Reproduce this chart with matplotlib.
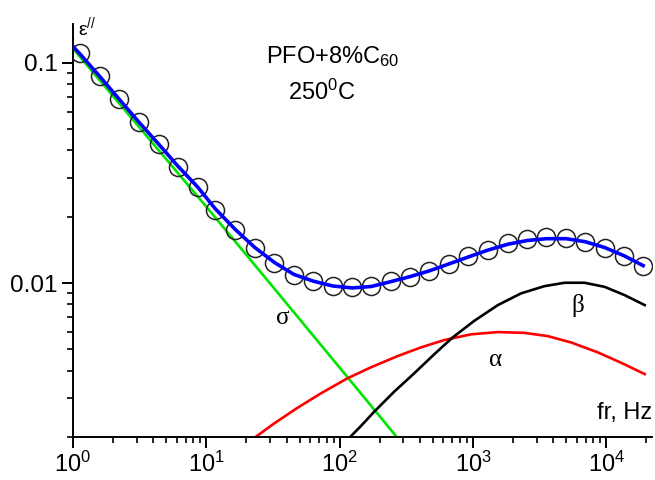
import matplotlib
matplotlib.use("Agg")
import matplotlib.pyplot as plt
from matplotlib.ticker import FixedLocator, FixedFormatter, NullFormatter

plt.rcParams['font.family'] = ['Liberation Sans', 'DejaVu Sans']
plt.rcParams['mathtext.fontset'] = 'custom'
plt.rcParams['mathtext.rm'] = 'Liberation Sans'
plt.rcParams['mathtext.it'] = 'Liberation Sans'
plt.rcParams['mathtext.bf'] = 'Liberation Sans'

# Measured dielectric loss, PFO + 8% C60 at 250 C
freq = [1.13, 1.60, 2.23, 3.10, 4.38, 6.08, 8.60, 11.7, 16.5, 23.1,
        32.4, 45.3, 63.4, 88.6, 124.5, 173, 242, 338, 469, 657,
        912, 1290, 1823, 2547, 3540, 5000, 6950, 9710, 13590, 18880]
eps_loss = [0.1107, 0.0867, 0.0684, 0.0541, 0.0426, 0.0338, 0.0272, 0.0215, 0.0174, 0.0144,
            0.0123, 0.01087, 0.0102, 0.00969, 0.00955, 0.00969, 0.01023, 0.01065, 0.01138, 0.0122,
            0.0132, 0.0142, 0.0152, 0.0158, 0.0161, 0.0160, 0.0154, 0.0144, 0.0132, 0.0119]

# Total fit curve
fit_freq = [1.0, 1.13, 1.60, 2.23, 3.10, 4.38, 6.08, 8.60, 11.7, 16.5, 23.1,
            32.4, 45.3, 63.4, 88.6, 124.5, 173, 242, 338, 469, 657,
            912, 1290, 1823, 2547, 3540, 5000, 6950, 9710, 13590, 18880]
fit_eps = [0.1186, 0.1095, 0.0862, 0.0681, 0.0540, 0.0428, 0.0341, 0.0273, 0.0217, 0.0175, 0.0145,
           0.0124, 0.01095, 0.0102, 0.00970, 0.00950, 0.00965, 0.01015, 0.01070, 0.01135, 0.0122,
           0.0131, 0.0141, 0.0150, 0.0156, 0.0159, 0.0159, 0.0154, 0.0145, 0.0133, 0.0120]

# Conductivity contribution
sigma_freq = [1.0, 10.0, 28.6, 114, 268]
sigma_eps = [0.116, 0.0222, 0.01033, 0.00375, 0.002]

# alpha relaxation
alpha_freq = [23.4, 32.1, 48.1, 71.9, 114, 171, 272, 406, 608, 966,
              1535, 2431, 3648, 5458, 8660, 12970, 19400]
alpha_eps = [0.0020, 0.0023, 0.00271, 0.00315, 0.00369, 0.00414, 0.00466, 0.0051, 0.00551, 0.00585,
             0.00599, 0.00594, 0.00574, 0.00537, 0.00484, 0.00434, 0.00386]

# beta relaxation
beta_freq = [115, 144, 181, 256, 362, 512, 703, 1023, 1535, 2296,
             3435, 4856, 6866, 9710, 13730, 19400]
beta_eps = [0.00195, 0.00224, 0.0026, 0.00321, 0.00389, 0.00475, 0.00566, 0.00674, 0.00794, 0.00898,
            0.00968, 0.01003, 0.01003, 0.00961, 0.00881, 0.00794]

x_major = [1, 10, 100, 1000, 10000]
x_major_labels = [r'$10^{0}$', r'$10^{1}$', r'$10^{2}$', r'$10^{3}$', r'$10^{4}$']
y_major = [0.01, 0.1]
y_major_labels = ['0.01', '0.1']

fig = plt.figure(figsize=(6.55, 4.8), dpi=100)
ax = fig.add_axes([73 / 655, 43 / 480, 579 / 655, 413 / 480])
ax.set_xscale('log')
ax.set_yscale('log')
ax.set_xlim(1, 2.2e4)
ax.set_ylim(0.002, 0.15)

ax.plot(sigma_freq, sigma_eps, color='#00e600', lw=1.9, zorder=2)
ax.plot(alpha_freq, alpha_eps, color='#ff0000', lw=1.9, zorder=2)
ax.plot(beta_freq, beta_eps, color='black', lw=1.9, zorder=2)
ax.plot(freq, eps_loss, linestyle='none', marker='o', markersize=13,
        markerfacecolor='none', markeredgecolor='#222222', markeredgewidth=1.1, zorder=3)
ax.plot(fit_freq, fit_eps, color='#0000ff', lw=2.6, zorder=4)

for side in ('top', 'right'):
    ax.spines[side].set_visible(False)
for side in ('left', 'bottom'):
    ax.spines[side].set_linewidth(1.4)

ax.xaxis.set_major_locator(FixedLocator(x_major))
ax.xaxis.set_major_formatter(FixedFormatter(x_major_labels))
x_minor = [m * d for d in [1, 10, 100, 1000, 10000] for m in range(2, 10) if m * d <= 2.2e4]
ax.xaxis.set_minor_locator(FixedLocator(x_minor))
ax.xaxis.set_minor_formatter(NullFormatter())

ax.yaxis.set_major_locator(FixedLocator(y_major))
ax.yaxis.set_major_formatter(FixedFormatter(y_major_labels))
y_minor = [m * d for d in [0.001, 0.01] for m in range(2, 10) if m * d >= 0.002]
ax.yaxis.set_minor_locator(FixedLocator(y_minor))
ax.yaxis.set_minor_formatter(NullFormatter())

ax.tick_params(which='major', direction='out', length=8, width=1.4, labelsize=17.5, pad=3)
ax.tick_params(which='minor', direction='out', length=4.5, width=1.2)
ax.tick_params(axis='x', which='major', labelsize=17, pad=2.5)

greek = ['Liberation Serif', 'DejaVu Serif']
ax.text(37.1, 0.00692, 'σ', family=greek, fontsize=18, ha='center', va='center')
ax.text(1489, 0.00447, 'α', family=greek, fontsize=18, ha='center', va='center')
ax.text(6124, 0.00794, 'β', family=greek, fontsize=18, ha='center', va='center')

fig.text(333 / 655, 1 - 57 / 480, r'PFO+8%C$_{60}$', fontsize=17, ha='center', va='center')
fig.text(322 / 655, 1 - 92 / 480, r'250$^{0}$C', fontsize=17, ha='center', va='center')
fig.text(78 / 655, 1 - 27 / 480, r'ε$^{//}$', fontsize=14, ha='left', va='center')
fig.text(652 / 655, 1 - 413 / 480, 'fr, Hz', fontsize=17, ha='right', va='center')

fig.savefig('out.png', dpi=100)
